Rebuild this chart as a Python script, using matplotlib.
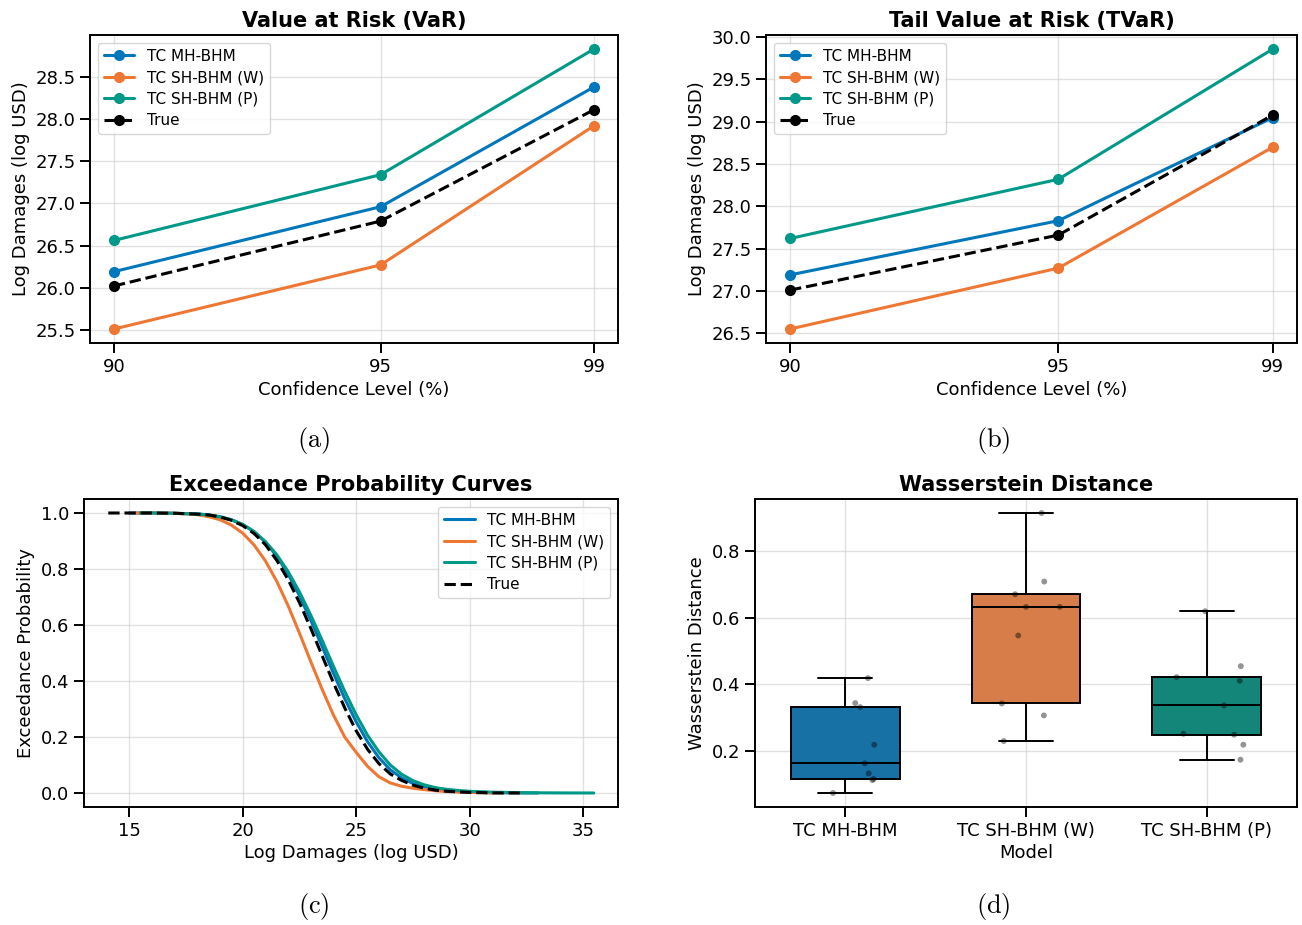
import numpy as np
import matplotlib
matplotlib.use("Agg")
import matplotlib.pyplot as plt
import seaborn as sns

# ---------------- data ----------------
models = ["TC MH-BHM", "TC SH-BHM (W)", "TC SH-BHM (P)"]
conf_levels = [90, 95, 99]

var_mh = [26.19, 26.96, 28.38]
var_shw = [25.51, 26.27, 27.92]
var_shp = [26.56, 27.34, 28.83]
var_true = [26.02, 26.79, 28.11]

tvar_mh = [27.19, 27.83, 29.05]
tvar_shw = [26.55, 27.27, 28.70]
tvar_shp = [27.62, 28.32, 29.86]
tvar_true = [27.01, 27.66, 29.08]

# exceedance curves (log damages, exceedance probability)
ep_true_x = [14.08, 15, 16, 17, 18, 18.5, 19, 19.5, 20, 20.5, 21, 21.5, 22, 22.5, 23, 23.5,
             24, 24.5, 25, 25.5, 26, 26.5, 27, 27.5, 28, 28.5, 29, 29.5, 30, 31, 32.3]
ep_true_y = [1.000, 1.000, 1.000, 0.999, 0.996, 0.993, 0.986, 0.974, 0.955, 0.927, 0.887, 0.831,
             0.762, 0.680, 0.588, 0.490, 0.393, 0.303, 0.222, 0.156, 0.105, 0.068, 0.045, 0.028,
             0.017, 0.010, 0.006, 0.004, 0.002, 0.0005, 0.0]

ep_mh_x = [15, 16, 17, 18, 18.5, 19, 19.5, 20, 20.5, 21, 21.5, 22, 22.5, 23, 23.5, 24, 24.5,
           25, 25.5, 26, 26.5, 27, 27.5, 28, 28.5, 29, 29.5, 30, 31, 32, 33]
ep_mh_y = [1.000, 1.000, 0.999, 0.997, 0.993, 0.987, 0.976, 0.959, 0.933, 0.896, 0.846, 0.782,
           0.705, 0.617, 0.523, 0.427, 0.336, 0.254, 0.183, 0.126, 0.083, 0.054, 0.034, 0.021,
           0.013, 0.008, 0.005, 0.003, 0.001, 0.0003, 0.0]

ep_shw_x = [15.3, 16, 17, 17.5, 18, 18.5, 19, 19.5, 20, 20.5, 21, 21.5, 22, 22.5, 23, 23.5, 24,
            24.5, 25, 25.5, 26, 26.5, 27, 27.5, 28, 28.5, 29, 30, 31, 31.5]
ep_shw_y = [1.000, 1.000, 0.999, 0.997, 0.994, 0.987, 0.976, 0.957, 0.928, 0.886, 0.829, 0.756,
            0.669, 0.571, 0.469, 0.370, 0.278, 0.199, 0.145, 0.095, 0.058, 0.036, 0.024, 0.017,
            0.012, 0.008, 0.005, 0.002, 0.0005, 0.0]

ep_shp_x = [15.5, 16, 17, 18, 18.5, 19, 19.5, 20, 20.5, 21, 21.5, 22, 22.5, 23, 23.5, 24, 24.5,
            25, 25.5, 26, 26.5, 27, 27.5, 28, 28.5, 29, 29.5, 30, 31, 32, 33, 34, 35, 35.46]
ep_shp_y = [1.000, 1.000, 0.999, 0.996, 0.993, 0.986, 0.976, 0.959, 0.934, 0.898, 0.851, 0.791,
            0.718, 0.635, 0.545, 0.452, 0.362, 0.279, 0.206, 0.147, 0.100, 0.067, 0.044, 0.029,
            0.019, 0.013, 0.009, 0.006, 0.003, 0.0015, 0.0007, 0.0003, 0.0001, 0.0]

# Wasserstein distances per model
wd_mh = [0.418, 0.343, 0.331, 0.218, 0.162, 0.132, 0.115, 0.112, 0.073]
wd_shw = [0.914, 0.708, 0.670, 0.632, 0.632, 0.546, 0.342, 0.306, 0.229]
wd_shp = [0.619, 0.454, 0.421, 0.410, 0.336, 0.251, 0.248, 0.218, 0.173]

# strip-plot jitter (horizontal offsets of the points, layout only)
jit_mh = [0.125, 0.055, 0.082, 0.16, 0.107, 0.129, 0.156, 0.15, -0.068]
jit_shw = [0.086, 0.101, -0.06, 0.0, 0.187, -0.043, -0.134, 0.099, -0.123]
jit_shp = [-0.008, 0.189, -0.166, 0.183, 0.096, -0.129, 0.152, 0.203, 0.187]

# ---------------- style ----------------
sns.set_theme(context="notebook", style="ticks")
plt.rcParams["font.family"] = ["DejaVu Sans"]
plt.rcParams["mathtext.fontset"] = "cm"
for k in ["text.color", "axes.labelcolor", "xtick.color", "ytick.color", "axes.edgecolor"]:
    plt.rcParams[k] = "black"
plt.rcParams["axes.linewidth"] = 1.4
plt.rcParams["xtick.major.width"] = 1.4
plt.rcParams["ytick.major.width"] = 1.4
plt.rcParams["xtick.major.size"] = 7
plt.rcParams["ytick.major.size"] = 7

c_mh = "#0077BB"
c_shw = "#EE7733"
c_shp = "#009988"
colors = [c_mh, c_shw, c_shp]

fig = plt.figure(figsize=(13.02, 9.25), dpi=100)
W, H = 1302, 925


def add_ax(l, r, t, b):
    return fig.add_axes([l / W, 1 - b / H, (r - l) / W, (b - t) / H])


ax_a = add_ax(90, 618, 35, 343)
ax_b = add_ax(766, 1297, 35, 343)
ax_c = add_ax(84, 618, 499, 807)
ax_d = add_ax(755, 1297, 499, 807)

title_kw = dict(fontsize=15, fontweight="bold", pad=6)
TICK = 13
LAB = 13
LEG = 11
leg_kw = dict(fontsize=LEG, frameon=True, framealpha=0.8, labelspacing=0.42)


def style_grid(ax):
    ax.grid(True, color="#cccccc", alpha=0.6, linewidth=1.0)
    ax.set_axisbelow(True)


# (a) VaR and (b) TVaR
for ax, series, title in [
    (ax_a, [var_mh, var_shw, var_shp, var_true], "Value at Risk (VaR)"),
    (ax_b, [tvar_mh, tvar_shw, tvar_shp, tvar_true], "Tail Value at Risk (TVaR)"),
]:
    for vals, col, lab in zip(series[:3], colors, models):
        ax.plot(conf_levels, vals, "-o", color=col, lw=2.2, ms=7, label=lab)
    ax.plot(conf_levels, series[3], "--o", color="black", lw=2.2, ms=7, label="True")
    ax.set_xticks(conf_levels)
    ax.set_xlabel("Confidence Level (%)", fontsize=LAB)
    ax.set_ylabel("Log Damages (log USD)", fontsize=LAB)
    ax.set_title(title, **title_kw)
    ax.tick_params(labelsize=TICK)
    style_grid(ax)
    ax.legend(loc="upper left", **leg_kw)

# (c) exceedance probability curves
ax_c.plot(ep_mh_x, ep_mh_y, color=c_mh, lw=2.2, label=models[0])
ax_c.plot(ep_shw_x, ep_shw_y, color=c_shw, lw=2.2, label=models[1])
ax_c.plot(ep_shp_x, ep_shp_y, color=c_shp, lw=2.2, label=models[2])
ax_c.plot(ep_true_x, ep_true_y, "--", color="black", lw=2.2, label="True")
ax_c.set_xlabel("Log Damages (log USD)", fontsize=LAB, labelpad=3)
ax_c.set_ylabel("Exceedance Probability", fontsize=LAB)
ax_c.set_title("Exceedance Probability Curves", **title_kw)
ax_c.tick_params(labelsize=TICK)
style_grid(ax_c)
ax_c.legend(loc="upper right", **leg_kw)

# (d) Wasserstein distance box plot
wd_all = [wd_mh, wd_shw, wd_shp]
jit_all = [jit_mh, jit_shw, jit_shp]
pos = np.arange(len(models))
bp = ax_d.boxplot(wd_all, positions=pos, widths=0.6, patch_artist=True, showfliers=False,
                  medianprops=dict(color="black", lw=1.4),
                  whiskerprops=dict(color="black", lw=1.4),
                  capprops=dict(color="black", lw=1.4),
                  boxprops=dict(edgecolor="black", lw=1.4))
for patch, col in zip(bp["boxes"], colors):
    patch.set_facecolor(sns.desaturate(col, 0.75))
for i, (vals, jit) in enumerate(zip(wd_all, jit_all)):
    ax_d.scatter(np.array(jit) + pos[i], vals, s=18, color="black", alpha=0.42,
                 edgecolor="none", zorder=5)
ax_d.set_xlim(-0.5, 2.5)
ax_d.set_xticks(pos)
ax_d.set_xticklabels(models)
ax_d.set_xlabel("Model", fontsize=LAB, labelpad=3)
ax_d.set_ylabel("Wasserstein Distance", fontsize=LAB)
ax_d.set_title("Wasserstein Distance", **title_kw)
ax_d.tick_params(labelsize=TICK)
style_grid(ax_d)
ax_d.set_yticks([0.2, 0.4, 0.6, 0.8])

# panel letters
for lab, x, y in [("(a)", 314, 440), ("(b)", 993, 440), ("(c)", 314, 906), ("(d)", 993, 906)]:
    fig.text(x / W, 1 - y / H, r"$\mathrm{" + lab + "}$", ha="center", va="center", fontsize=19)

fig.savefig("out.png", dpi=100)
